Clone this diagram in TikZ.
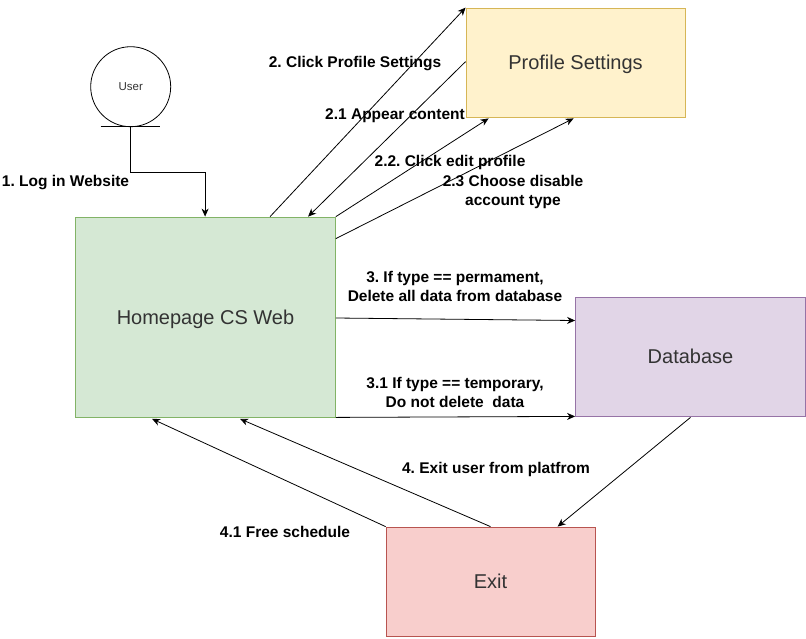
\documentclass[tikz,border=0pt]{standalone}
\usepackage{fontspec}
\setmainfont{Liberation Sans}
\usetikzlibrary{arrows.meta,calc}
\frenchspacing
\definecolor{gfill}{HTML}{D5E8D4}\definecolor{gline}{HTML}{82B366}
\definecolor{yfill}{HTML}{FFF2CC}\definecolor{yline}{HTML}{D6B656}
\definecolor{pfill}{HTML}{E1D5E7}\definecolor{pline}{HTML}{9673A6}
\definecolor{rfill}{HTML}{F8CECC}\definecolor{rline}{HTML}{B85450}
\definecolor{txt}{HTML}{333333}
\tikzset{
  box/.style={draw, line width=0.8pt, rectangle, text=txt, font=\fontsize{20}{24}\selectfont, inner sep=0pt, text depth=0pt, text height=14pt},
  arr/.style={draw, line width=0.8pt, -{Stealth[length=8pt,width=7pt,inset=2.5pt]}},
  lbl/.style={font=\fontsize{15.5}{19}\selectfont\bfseries, align=center, inner sep=0pt},
}
\begin{document}
\begin{tikzpicture}[x=1pt,y=-1pt]
\useasboundingbox (0,0) rectangle (806,638);
% nodes
\node[draw, circle, line width=0.8pt, minimum size=80pt, inner sep=0pt, text=txt, font=\fontsize{11.5}{14}\selectfont] (user) at (130.7,86.7) {User};
\coordinate (ul) at (100.7,126.7);
\coordinate (ur) at (160.3,126.7);
\draw[line width=0.8pt] (ul) -- (ur);
\node[box, fill=gfill, draw=gline, minimum width=260pt, minimum height=200pt] (home) at (205.5,317) {Homepage CS Web};
\node[box, fill=yfill, draw=yline, minimum width=219pt, minimum height=109pt] (prof) at (575.5,62.5) {Profile Settings};
\node[box, fill=pfill, draw=pline, minimum width=230pt, minimum height=119pt] (db) at (690.5,356.5) {Database};
\node[box, fill=rfill, draw=rline, minimum width=209pt, minimum height=109pt] (exit) at (490.5,581.5) {Exit};
% connectors
\draw[arr] (user.south) -- ($(user.south)+(0,45)$) -| ($(home.north west)+(130,0)$);
\draw[arr] ($(home.north west)+(195,0)$) -- (prof.north west);
\draw[arr] ($(prof.north west)+(0,54)$) -- ($(home.north west)+(233,0)$);
\draw[arr] (home.north east) -- ($(prof.south west)+(23,1)$);
\draw[arr] ($(home.north east)+(0,22)$) -- ($(prof.south west)+(108,1)$);
\draw[arr] ($(home.east)+(0,1)$) -- ($(db.west)+(0,-36)$);
\draw[arr] (home.south east) -- (db.south west);
\draw[arr] ($(db.south)+(0,1)$) -- ($(exit.north west)+(172,0)$);
\draw[arr] (exit.north) -- ($(home.south west)+(165,1.5)$);
\draw[arr] (exit.north west) -- ($(home.south west)+(77,1.5)$);
% labels
\node[lbl] (l1) at (65.5,183) {1. Log in Website};
\node[lbl] (l2) at (355,64) {2. Click Profile Settings};
\node[lbl] (l21) at (395,116) {2.1 Appear content};
\node[lbl] (l22) at (450,162) {2.2. Click edit profile};
\node[lbl] (l23) at (513,192) {2.3 Choose disable\\account type};
\node[lbl] (l3) at (455,286.5) {3. If type == permament,\\Delete all data from database};
\node[lbl] (l31) at (455,392.5) {3.1 If type == temporary,\\Do not delete\ \ data};
\node[lbl] (l4) at (496,469) {4. Exit user from platfrom};
\node[lbl] (l41) at (285,532) {4.1 Free schedule};
\end{tikzpicture}
\end{document}
